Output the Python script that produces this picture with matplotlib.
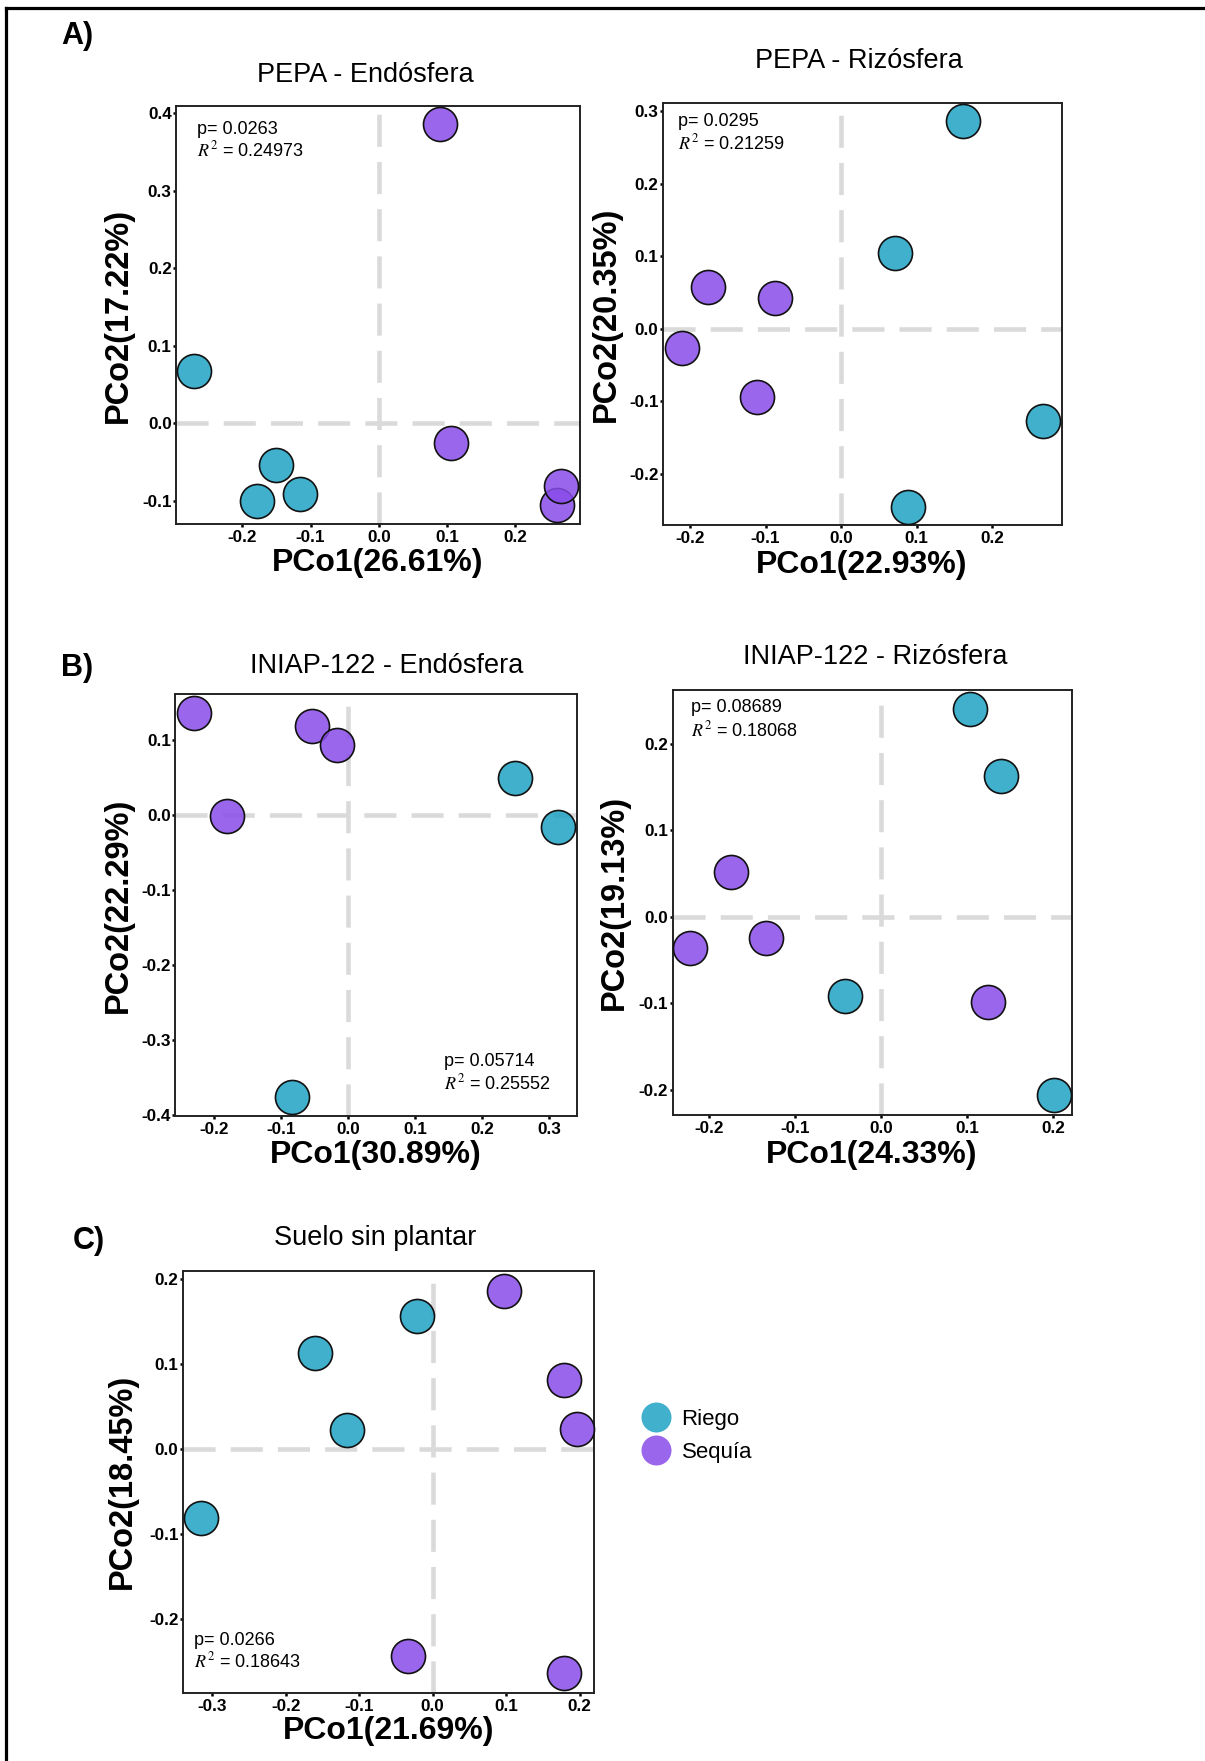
import numpy as np
import matplotlib
matplotlib.use("Agg")
import matplotlib.pyplot as plt
from matplotlib.lines import Line2D

plt.rcParams['font.family'] = ['Liberation Sans', 'DejaVu Sans']
plt.rcParams['mathtext.fontset'] = 'stix'

W, H = 1205, 1761

# ---------------- data ----------------
# A) PEPA - Endósfera
pepa_endo_riego_x = [-0.271, -0.150, -0.178, -0.115]
pepa_endo_riego_y = [0.068, -0.053, -0.100, -0.091]
pepa_endo_sequia_x = [0.090, 0.106, 0.261, 0.266]
pepa_endo_sequia_y = [0.386, -0.025, -0.105, -0.081]

# A) PEPA - Rizósfera
pepa_rizo_riego_x = [0.162, 0.072, 0.268, 0.089]
pepa_rizo_riego_y = [0.286, 0.105, -0.127, -0.246]
pepa_rizo_sequia_x = [-0.176, -0.088, -0.211, -0.112]
pepa_rizo_sequia_y = [0.058, 0.042, -0.027, -0.094]

# B) INIAP-122 - Endósfera
iniap_endo_riego_x = [0.250, 0.314, -0.083]
iniap_endo_riego_y = [0.049, -0.016, -0.376]
iniap_endo_sequia_x = [-0.230, -0.054, -0.017, -0.181]
iniap_endo_sequia_y = [0.136, 0.118, 0.093, -0.002]

# B) INIAP-122 - Rizósfera
iniap_rizo_riego_x = [0.104, 0.139, -0.042, 0.201]
iniap_rizo_riego_y = [0.240, 0.162, -0.092, -0.206]
iniap_rizo_sequia_x = [-0.175, -0.1335, -0.222, 0.125]
iniap_rizo_sequia_y = [0.052, -0.025, -0.036, -0.099]

# C) Suelo sin plantar
suelo_riego_x = [-0.315, -0.160, -0.116, -0.021]
suelo_riego_y = [-0.081, 0.113, 0.023, 0.157]
suelo_sequia_x = [0.097, 0.179, 0.196, -0.033, 0.179]
suelo_sequia_y = [0.186, 0.081, 0.024, -0.2425, -0.263]

titles = ["PEPA - Endósfera", "PEPA - Rizósfera", "INIAP-122 - Endósfera",
          "INIAP-122 - Rizósfera", "Suelo sin plantar"]
xlabels = ["PCo1(26.61%)", "PCo1(22.93%)", "PCo1(30.89%)", "PCo1(24.33%)", "PCo1(21.69%)"]
ylabels = ["PCo2(17.22%)", "PCo2(20.35%)", "PCo2(22.29%)", "PCo2(19.13%)", "PCo2(18.45%)"]
p_values = ["0.0263", "0.0295", "0.05714", "0.08689", "0.0266"]
r2_values = ["0.24973", "0.21259", "0.25552", "0.18068", "0.18643"]
groups = ["Riego", "Sequía"]

xticks_list = [[-0.2, -0.1, 0.0, 0.1, 0.2],
               [-0.2, -0.1, 0.0, 0.1, 0.2],
               [-0.2, -0.1, 0.0, 0.1, 0.2, 0.3],
               [-0.2, -0.1, 0.0, 0.1, 0.2],
               [-0.3, -0.2, -0.1, 0.0, 0.1, 0.2]]
yticks_list = [[-0.1, 0.0, 0.1, 0.2, 0.3, 0.4],
               [-0.2, -0.1, 0.0, 0.1, 0.2, 0.3],
               [-0.4, -0.3, -0.2, -0.1, 0.0, 0.1],
               [-0.2, -0.1, 0.0, 0.1, 0.2],
               [-0.2, -0.1, 0.0, 0.1, 0.2]]

# ---------------- style ----------------
ALPHA = 0.85
c_riego = (30/255, 162/255, 195/255, ALPHA)
c_sequia = (137/255, 76/255, 233/255, ALPHA)

fig = plt.figure(figsize=(W/100, H/100), dpi=100)


def fx(px):
    return px / W


def fy(py):
    return 1 - py / H


panels = [
    dict(box=(176.0, 106.4, 579.7, 524.2), xlim=(-0.297, 0.294), ylim=(-0.130, 0.409),
         data=(pepa_endo_riego_x, pepa_endo_riego_y, pepa_endo_sequia_x, pepa_endo_sequia_y),
         title_xy=(365.4, 74.6), ylab_x=118.6, xlab=(377.9, 570.5),
         ann=(197.1, 129.0, 150.4)),
    dict(box=(662.9, 103.3, 1061.5, 525.0), xlim=(-0.236, 0.292), ylim=(-0.271, 0.311),
         data=(pepa_rizo_riego_x, pepa_rizo_riego_y, pepa_rizo_sequia_x, pepa_rizo_sequia_y),
         title_xy=(859.0, 61.2), ylab_x=605.9, xlab=(862.0, 573.0),
         ann=(677.7, 121.7, 143.5)),
    dict(box=(175.3, 694.3, 577.0, 1115.7), xlim=(-0.258, 0.342), ylim=(-0.4014, 0.1606),
         data=(iniap_endo_riego_x, iniap_endo_riego_y, iniap_endo_sequia_x, iniap_endo_sequia_y),
         title_xy=(386.5, 666.4), ylab_x=118.6, xlab=(376.0, 1163.3),
         ann=(443.9, 1061.8, 1083.6)),
    dict(box=(672.5, 690.4, 1071.5, 1114.6), xlim=(-0.2426, 0.2216), ylim=(-0.229, 0.2615),
         data=(iniap_rizo_riego_x, iniap_rizo_riego_y, iniap_rizo_sequia_x, iniap_rizo_sequia_y),
         title_xy=(875.0, 657.5), ylab_x=613.9, xlab=(872.0, 1163.3),
         ann=(690.8, 707.5, 730.7)),
    dict(box=(182.7, 1270.8, 594.3, 1692.5), xlim=(-0.340, 0.220), ylim=(-0.286, 0.210),
         data=(suelo_riego_x, suelo_riego_y, suelo_sequia_x, suelo_sequia_y),
         title_xy=(375.6, 1237.6), ylab_x=122.6, xlab=(388.5, 1739.0),
         ann=(194.5, 1640.8, 1661.5)),
]

MARKER_S = 24.5 ** 2
DASH = (0, (7.0, 3.3))

for i, p in enumerate(panels):
    l, t, r, b = p['box']
    ax = fig.add_axes([fx(l), fy(b), (r - l)/W, (b - t)/H])
    ax.set_xlim(*p['xlim'])
    ax.set_ylim(*p['ylim'])
    ax.axhline(0, color='#DADADA', lw=3.3, ls=DASH, zorder=1)
    ax.axvline(0, color='#DADADA', lw=3.3, ls=DASH, zorder=1)
    rx, ry, sx, sy = p['data']
    ax.scatter(rx, ry, s=MARKER_S, marker='o', facecolor=c_riego,
               edgecolor='#111111', linewidth=1.2, zorder=3, clip_on=False)
    ax.scatter(sx, sy, s=MARKER_S, marker='o', facecolor=c_sequia,
               edgecolor='#111111', linewidth=1.2, zorder=3, clip_on=False)
    xt = xticks_list[i]
    yt = yticks_list[i]
    ax.set_xticks(xt)
    ax.set_xticklabels([f"{v:.1f}" for v in xt])
    ax.set_yticks(yt)
    ax.set_yticklabels([f"{v:.1f}" for v in yt])
    ax.tick_params(axis='both', direction='out', length=2.5, width=1.8, color='black',
                   labelsize=12.3)
    ax.tick_params(axis='x', pad=2.0)
    ax.tick_params(axis='y', pad=0.6)
    for lab in ax.get_xticklabels() + ax.get_yticklabels():
        lab.set_fontweight('bold')
        lab.set_color('black')
    for sp in ax.spines.values():
        sp.set_linewidth(1.4)
        sp.set_color('#222222')
    # titles and labels
    tx, ty = p['title_xy']
    fig.text(fx(tx), fy(ty), titles[i], ha='center', va='center', fontsize=19.5)
    xlx, xly = p['xlab']
    fig.text(fx(xlx), fy(xly), xlabels[i], ha='center', va='baseline',
             fontsize=23, fontweight='bold')
    fig.text(fx(p['ylab_x']), fy((t + b)/2), ylabels[i], ha='center', va='center',
             rotation=90, fontsize=23.5, fontweight='bold')
    axx, ay1, ay2 = p['ann']
    fig.text(fx(axx), fy(ay1), f"p= {p_values[i]}", ha='left', va='center', fontsize=13)
    fig.text(fx(axx), fy(ay2), r"$R^2$" + f" = {r2_values[i]}", ha='left', va='center',
             fontsize=13)

# section letters
fig.text(fx(61.2), fy(36.4), "A)", ha='left', va='center', fontsize=22, fontweight='bold')
fig.text(fx(61.2), fy(668.2), "B)", ha='left', va='center', fontsize=22, fontweight='bold')
fig.text(fx(73.0), fy(1241.1), "C)", ha='left', va='center', fontsize=22, fontweight='bold')

# legend
handles = [Line2D([], [], ls='none', marker='o', markersize=21.6,
                  markerfacecolor=c_riego, markeredgewidth=0),
           Line2D([], [], ls='none', marker='o', markersize=21.6,
                  markerfacecolor=c_sequia, markeredgewidth=0)]
fig.legend(handles, groups, loc='center left', bbox_to_anchor=(fx(640.4), fy(1436)),
           frameon=False, fontsize=16, handlelength=1.4, handletextpad=0.45,
           labelspacing=0.55, borderpad=0, borderaxespad=0)

# outer frame (top and left)
fig.add_artist(Line2D([fx(6), 1.0], [fy(8), fy(8)], transform=fig.transFigure,
                      color='black', lw=2.3))
fig.add_artist(Line2D([fx(6), fx(6)], [fy(8), 0.0], transform=fig.transFigure,
                      color='black', lw=2.3))

fig.savefig("out.png", dpi=100, facecolor='white')
